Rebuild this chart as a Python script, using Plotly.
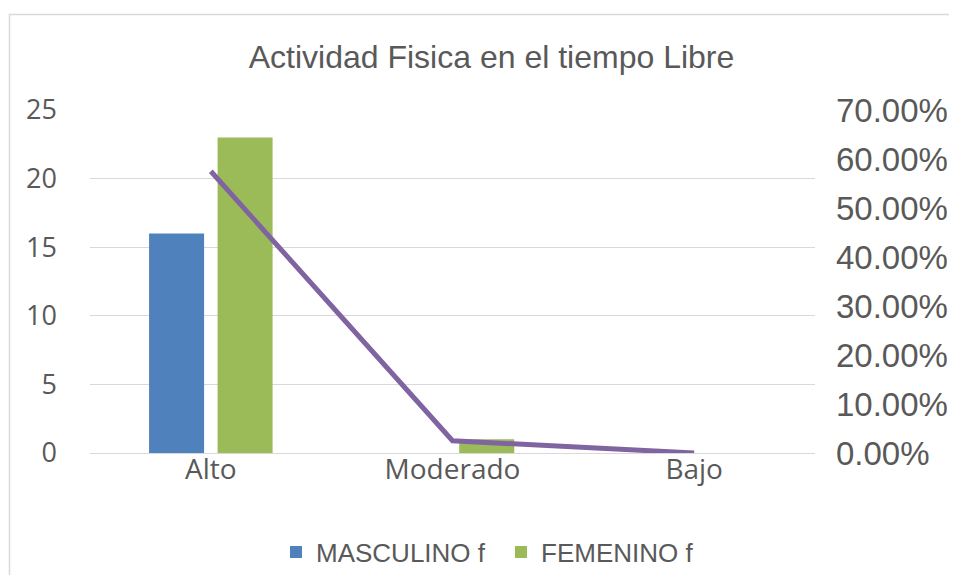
import plotly.graph_objects as go

categories = ["Alto", "Moderado", "Bajo"]
masculino_f = [16, 0, 0]
femenino_f = [23, 1, 0]
porcentaje = [0.575, 0.025, 0.0]

# page is rendered with an 8px body margin; work in page pixels and convert
OFF = 8
PW, PH = 957, 583
W, H = PW - 2 * OFF, PH - 2 * OFF
PL, PR, PT, PB = 90, 815, 110, 453  # plot area in page pixels
L, T = PL - OFF, PT - OFF
R = W - (PR - OFF)
B = H - (PB - OFF)
pw, ph = PR - PL, PB - PT

def px_x(px):
    return (px - PL) / pw

def px_y(py):
    return (PB - py) / ph

fig = go.Figure()
fig.add_trace(go.Bar(x=categories, y=masculino_f, name="MASCULINO f",
                     marker=dict(color="#4F81BD", line=dict(width=0))))
fig.add_trace(go.Bar(x=categories, y=femenino_f, name="FEMENINO f",
                     marker=dict(color="#9BBB59", line=dict(width=0))))
fig.add_trace(go.Scatter(x=categories, y=porcentaje, yaxis="y2", mode="lines",
                         line=dict(color="#8064A2", width=5), showlegend=False,
                         name="%"))

fig.update_layout(
    width=W, height=H,
    margin=dict(l=L, r=R, t=T, b=B, autoexpand=False),
    paper_bgcolor="white", plot_bgcolor="white",
    barmode="group", bargap=0.433, bargroupgap=0.197,
    title=dict(text="Actividad Fisica en el tiempo Libre", xref="paper",
               x=px_x(491.5), xanchor="center",
               y=1 - (57 - OFF) / H, yanchor="middle",
               font=dict(family="Liberation Sans, Arial", size=32, color="#595959")),
    font=dict(family="Liberation Sans, Arial", color="#595959"),
    xaxis=dict(showgrid=False, showline=False, zeroline=False, ticks="",
               tickfont=dict(family="Open Sans", size=28, color="#595959"),
               ticklabelstandoff=-3),
    yaxis=dict(range=[0, 25], dtick=5, showgrid=True, gridcolor="#d9d9d9", gridwidth=1,
               zeroline=True, zerolinecolor="#d9d9d9", zerolinewidth=1,
               showline=False, ticks="",
               tickfont=dict(family="Open Sans", size=27, color="#595959"),
               ticklabelstandoff=32),
    yaxis2=dict(range=[0, 0.7], dtick=0.1, tickformat=".2%", overlaying="y", side="right",
                showgrid=False, zeroline=False, showline=False, ticks="",
                tickfont=dict(family="Liberation Sans, Arial", size=33, color="#595959"),
                ticklabelstandoff=20),
    legend=dict(orientation="h", x=px_x(276), xanchor="left", y=px_y(552), yanchor="middle",
                font=dict(family="Liberation Sans, Arial", size=26, color="#595959"),
                itemwidth=30, entrywidth=180, entrywidthmode="pixels",
                traceorder="normal", bgcolor="rgba(0,0,0,0)"),
    shapes=[dict(type="rect", xref="paper", yref="paper",
                 x0=px_x(9.5), x1=px_x(PW + 40),
                 y0=px_y(PH + 40), y1=px_y(14.5),
                 line=dict(color="#d9d9d9", width=1.5), fillcolor="rgba(0,0,0,0)",
                 layer="below")],
)

fig.write_html("out.html")
